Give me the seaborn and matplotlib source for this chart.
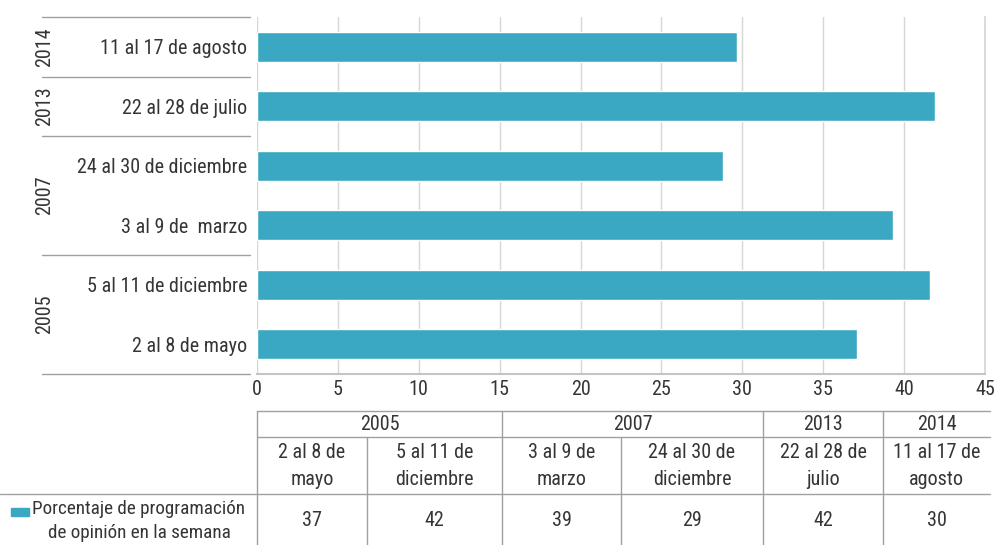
import matplotlib.pyplot as plt
import matplotlib.transforms as mtransforms
from matplotlib import font_manager as fm
from matplotlib.patches import Rectangle
import seaborn as sns
import pandas as pd

# data, in chronological order (as in the table below the chart)
years = ['2005', '2005', '2007', '2007', '2013', '2014']
weeks = ['2 al 8 de mayo', '5 al 11 de diciembre', '3 al 9 de  marzo',
         '24 al 30 de diciembre', '22 al 28 de julio', '11 al 17 de agosto']
table_weeks = ['2 al 8 de\nmayo', '5 al 11 de\ndiciembre', '3 al 9 de\nmarzo',
               '24 al 30 de\ndiciembre', '22 al 28 de\njulio', '11 al 17 de\nagosto']
values = [37.1, 41.6, 39.3, 28.8, 41.9, 29.7]
table_values = ['37', '42', '39', '29', '42', '30']
series_name = 'Porcentaje de programación\nde opinión en la semana'

BAR = '#3aa8c2'
TXT = '#353535'
LINE = '#a0a0a0'

sns.set_theme(style='white')

# pick a narrow face if one is installed
family, stretch = 'Liberation Sans', 'normal'
narrow = [f for f in fm.fontManager.ttflist
          if ('Narrow' in f.fname or 'Condensed' in f.fname)
          and not any(k in f.fname for k in ['Bold', 'Italic', 'Oblique', 'Light'])]
for pref in ['Liberation Sans Narrow', 'Roboto Condensed', 'Open Sans Condensed', 'DejaVu Sans']:
    hit = [f for f in narrow if f.name == pref]
    if hit:
        family, stretch = hit[0].name, hit[0].stretch
        break
plt.rcParams['font.family'] = [family, 'DejaVu Sans']
plt.rcParams['font.stretch'] = stretch

fig = plt.figure(figsize=(9.96, 5.45), dpi=100)
W, H = 996, 545

# size the text so the longest label is as wide as in the reference
probe = fig.text(0, 0, '24 al 30 de diciembre', fontsize=10)
w10 = probe.get_window_extent(renderer=fig.canvas.get_renderer()).width
probe.remove()
FS = min(10 * 169 / w10, 15)

df = pd.DataFrame({'semana': weeks, 'valor': values, 'anio': years})

# overlay in pixel coords for the table
tax = fig.add_axes([0, 0, 1, 1], zorder=-1)
tax.set_xlim(0, W)
tax.set_ylim(H, 0)
tax.axis('off')

ax = fig.add_axes([257 / W, 1 - 374 / H, 728 / W, 357 / H])
sns.barplot(data=df, x='valor', y='semana', order=weeks[::-1], color=BAR,
            saturation=1, width=0.5, ax=ax)
ax.set_xlim(0, 45)
ax.set_ylim(len(weeks) - 0.5, -0.5)
ax.set_xticks(range(0, 46, 5))
ax.set_xlabel('')
ax.set_ylabel('')
ax.grid(axis='x', color='#d6d6d6', lw=1)
ax.set_axisbelow(True)
for s in ['top', 'left']:
    ax.spines[s].set_visible(False)
ax.spines['right'].set_color('#d6d6d6')
ax.spines['bottom'].set_color('#c4c4c4')
ax.spines['bottom'].set_linewidth(1.5)
ax.tick_params(axis='y', length=0, pad=7, labelsize=FS, labelcolor=TXT)
ax.tick_params(axis='x', length=0, pad=4, labelsize=FS, labelcolor=TXT)

# year groups on the left
trans = mtransforms.blended_transform_factory(fig.transFigure, ax.transData)
rev_years = years[::-1]
groups = []
for i, y in enumerate(rev_years):
    if groups and groups[-1][0] == y:
        groups[-1][2] = i
    else:
        groups.append([y, i, i])
ax.plot([42 / W, 250 / W], [-0.5, -0.5], transform=trans, color=LINE, lw=1, clip_on=False)
for y, a, b in groups:
    ax.plot([42 / W, 250 / W], [b + 0.5, b + 0.5], transform=trans, color=LINE, lw=1, clip_on=False)
    ax.text(45 / W, (a + b) / 2, y, rotation=90, ha='center', va='center',
            transform=trans, fontsize=FS, color=TXT)

# data table
col_edges = [257, 367, 502, 621, 763, 883, 990]
tax.plot([257, 990], [411, 411], color=LINE, lw=1)
tax.plot([257, 990], [437, 437], color=LINE, lw=1)
tax.plot([0, 990], [494, 494], color=LINE, lw=1)
tax.plot([257, 257], [411, 545], color=LINE, lw=1)
for x in col_edges[1:-1]:
    tax.plot([x, x], [437, 545], color=LINE, lw=1)

chron_groups = []
for i, y in enumerate(years):
    if chron_groups and chron_groups[-1][0] == y:
        chron_groups[-1][2] = i
    else:
        chron_groups.append([y, i, i])
for y, a, b in chron_groups:
    x0, x1 = col_edges[a], col_edges[b + 1]
    if a > 0:
        tax.plot([x0, x0], [411, 437], color=LINE, lw=1)
    tax.text((x0 + x1) / 2, 424, y, ha='center', va='center', fontsize=FS, color=TXT)

for i in range(len(weeks)):
    xc = (col_edges[i] + col_edges[i + 1]) / 2
    tax.text(xc, 466, table_weeks[i], ha='center', va='center', fontsize=FS,
             color=TXT, linespacing=1.5)
    tax.text(xc, 521, table_values[i], ha='center', va='center', fontsize=FS, color=TXT)

tax.add_patch(Rectangle((11, 508), 18, 8, color=BAR))
tax.text(139, 521, series_name, ha='center', va='center', fontsize=FS * 0.95,
         color=TXT, linespacing=1.4)

fig.savefig('out.png', dpi=100)
